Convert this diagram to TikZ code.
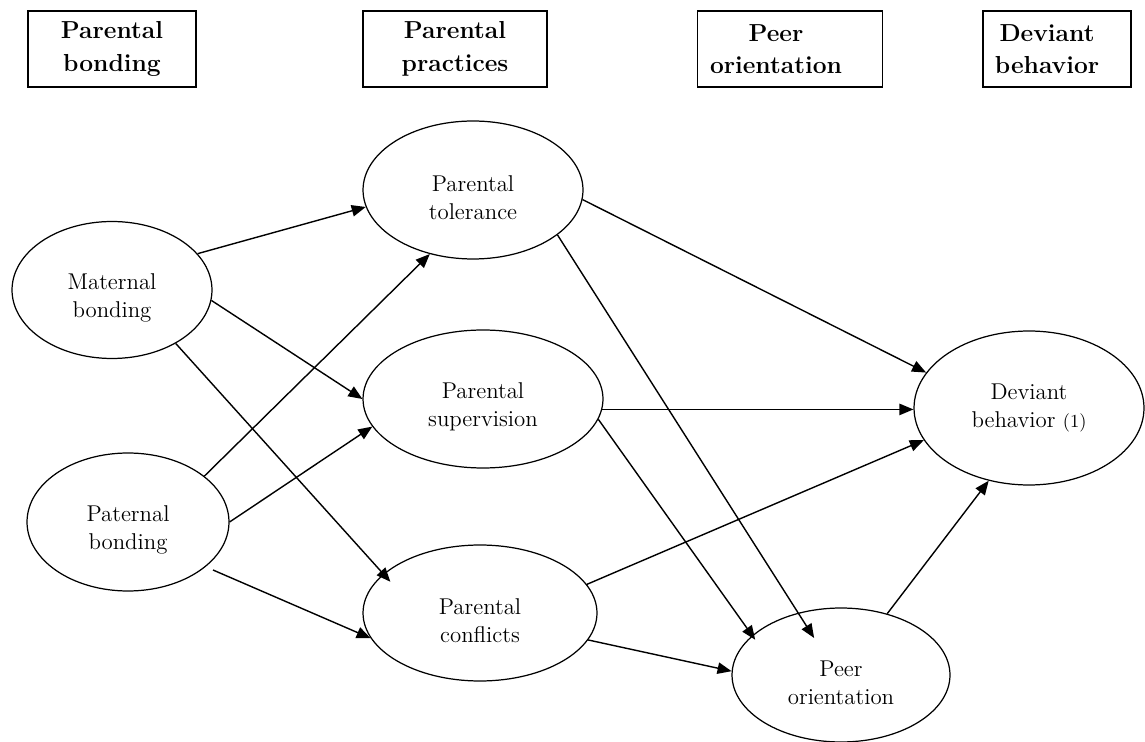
\documentclass[tikz,border=0pt]{standalone}
\usetikzlibrary{arrows.meta, shapes.geometric, calc}

\begin{document}
\begin{tikzpicture}[
    x=0.02cm, y=-0.02cm,
    font=\fontsize{13}{16}\selectfont,
    % headers are bold boxes, constructs are ellipses
    head/.style   = {draw=black, line width=0.8pt, align=center, minimum height=1.52cm,
                     font=\fontsize{14}{18.5}\selectfont\bfseries},
    latent/.style = {draw=black, ellipse, line width=0.7pt, inner sep=0pt, align=center},
    low/.style    = {latent, execute at begin node={\rule{0pt}{34pt}}}, % text a bit below centre
    effect/.style = {-{Triangle[length=8pt, width=6.5pt]}, line width=0.8pt},
  ]
  \useasboundingbox (0,0) rectangle (1145,742);

  %% ---------- column headers ----------
  \node[head, minimum width=3.36cm] (hbond) at (112,49)  {Parental\\bonding};
  \node[head, minimum width=3.68cm] (hprac) at (455,49)  {Parental\\practices};
  \node[head, minimum width=3.7cm]  (hpeer) at (790,49)
    {Peer\hspace*{0.56cm}\\orientation\hspace*{0.56cm}};
  \node[head, minimum width=2.96cm] (hdev)  at (1057,49)
    {Deviant\hspace*{0.4cm}\\behavior\hspace*{0.4cm}};

  %% ---------- constructs ----------
  \node[low, minimum width=4cm,    minimum height=2.74cm] (mat)  at (112,290)  {Maternal\\bonding};
  \node[low, minimum width=4.04cm, minimum height=2.76cm] (pat)  at (128,522)  {Paternal\\bonding};
  \node[low, minimum width=4.4cm,  minimum height=2.76cm] (tol)  at (473,190)  {Parental\\tolerance};
  \node[low, minimum width=4.8cm,  minimum height=2.76cm] (sup)  at (483,399)  {Parental\\supervision};
  \node[low, minimum width=4.68cm, minimum height=2.72cm] (con)  at (480,613)  {Parental\\conflicts};
  \node[low, minimum width=4.36cm, minimum height=2.68cm] (peer) at (841,675)  {Peer\\orientation};
  \node[latent, minimum width=4.6cm, minimum height=3.08cm] (dev) at (1029,408)
    {Deviant\\behavior {\fontsize{10.5}{12}\selectfont(1)}};

  %% ---------- paths ----------
  \draw[effect] (mat.23)  -- (tol.189);
  \draw[effect] (mat.-6)  -- (sup.180);
  \draw[effect, shorten >=-6pt] (mat.-40) -- (con.158);

  \draw[effect] (pat.31) -- (tol.236);
  \draw[effect] (pat.0)  -- (sup.194);
  \coordinate (patfree) at (213,570);
  \draw[effect] (patfree) -- (con.193);

  \draw[effect] (tol.-5)  -- (dev.161);
  \draw[effect] (tol.-28) -- ($(peer.center)!0.6!(peer.126)$);

  \draw[effect] (sup.-5)  -- (sup.-5 -| dev.west);
  \draw[effect, shorten >=-3pt] (sup.-10) -- (peer.156);

  \draw[effect] (con.15)  -- (dev.197);
  \draw[effect] (con.-14) -- (peer.178);

  \draw[effect] (peer.53) -- (dev.241);
\end{tikzpicture}
\end{document}
